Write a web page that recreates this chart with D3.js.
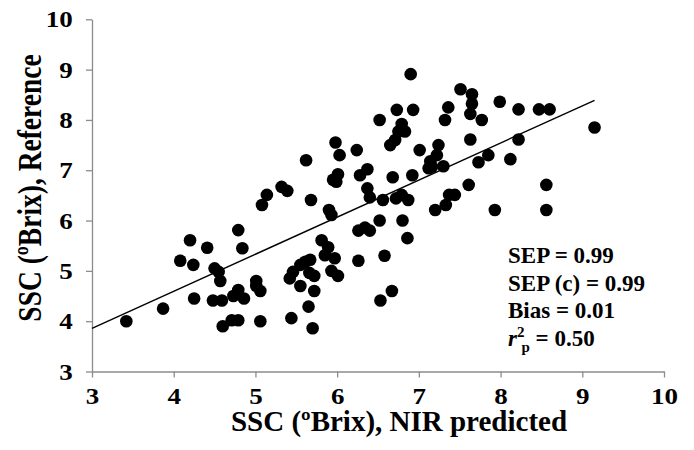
<!DOCTYPE html>
<html>
<head>
<meta charset="utf-8">
<script src="https://cdnjs.cloudflare.com/ajax/libs/d3/7.8.5/d3.min.js"></script>
<style>
  body { margin: 0; background: #fff; }
  svg text { font-family: "Liberation Serif", "Times New Roman", serif; font-weight: bold; fill: #000; }
</style>
</head>
<body>
<script>
// NIR predicted vs reference SSC (ºBrix)
const predicted = [3.42, 3.87, 4.08, 4.20, 4.24, 4.25, 4.41, 4.50, 4.55, 4.48, 4.59, 4.57, 4.60, 4.71, 4.79,
  4.73, 4.79, 4.86, 4.79, 4.84, 5.01, 5.01, 5.06, 5.06, 5.44, 5.42, 5.46, 5.55, 5.61, 5.67,
  5.55, 5.65, 5.66, 5.72, 5.72, 5.70, 5.81, 5.89, 5.85, 5.97, 5.93, 6.01, 5.08, 5.14, 5.32,
  5.39, 5.62, 5.68, 5.90, 5.93, 5.95, 6.01, 5.99, 5.98, 6.03, 6.24, 6.28, 6.37, 6.37, 6.40,
  6.56, 6.72, 6.79, 6.87, 7.20, 7.33, 6.26, 6.34, 6.40, 6.52, 6.80, 6.86, 6.26, 6.58, 6.67,
  6.53, 6.90, 6.73, 6.93, 6.52, 6.79, 6.83, 6.75, 6.71, 6.65, 7.36, 7.32, 7.01, 7.24, 7.22,
  7.14, 7.16, 7.30, 7.12, 6.92, 6.68, 7.37, 7.44, 7.51, 7.65, 7.65, 7.63, 7.77, 7.99, 8.22,
  8.47, 8.60, 9.15, 7.63, 8.22, 7.85, 7.73, 8.12, 7.61, 8.56, 7.93, 8.56]
const reference = [4.00, 4.25, 5.20, 5.61, 5.12, 4.45, 5.46, 5.05, 4.98, 4.41, 4.41, 4.80, 3.90, 4.02, 4.02,
  4.50, 4.62, 4.45, 5.81, 5.45, 4.80, 4.70, 4.60, 4.00, 4.06, 4.85, 4.98, 5.12, 5.18, 5.22,
  4.70, 4.29, 4.96, 4.90, 4.60, 3.86, 5.61, 5.47, 5.31, 5.25, 5.00, 4.90, 6.31, 6.51, 6.67,
  6.59, 7.20, 6.41, 6.21, 6.11, 6.81, 6.92, 6.77, 7.55, 7.30, 7.40, 6.90, 7.02, 6.64, 6.46,
  6.41, 6.44, 6.51, 6.41, 6.21, 6.31, 5.80, 5.86, 5.80, 6.00, 6.00, 5.65, 5.20, 5.30, 4.60,
  4.41, 8.91, 8.20, 8.20, 8.00, 7.92, 7.77, 7.77, 7.60, 7.50, 8.25, 8.00, 7.40, 7.50, 7.30,
  7.18, 7.07, 7.08, 7.04, 6.90, 6.86, 6.51, 6.51, 8.61, 8.51, 8.32, 8.12, 8.00, 8.36, 8.21,
  8.21, 8.21, 7.85, 7.61, 7.61, 7.30, 7.16, 7.22, 6.71, 6.71, 6.21, 6.21]

const ticks = [3, 4, 5, 6, 7, 8, 9, 10]
const fitX = [3, 9.15]
const fitIntercept = 3.857
const fitSlope = 0.737
const stats = [
  {label: "SEP", value: "0.99"},
  {label: "SEP (c)", value: "0.99"},
  {label: "Bias", value: "0.01"},
  {label: "r2p", value: "0.50"}
]

const width = 694
const height = 450

const svg = d3.select('body').append('svg')
  .attr('width', width)
  .attr('height', height)

const x = d3.scaleLinear().domain([3, 10]).range([92, 664])
const y = d3.scaleLinear().domain([3, 10]).range([371.5, 19.3])

const axisColor = '#8c8c8c'
const fmt = d3.format('d')

const xAxis = svg.append('g')
  .attr('transform', `translate(0,${y(3)})`)
  .call(d3.axisBottom(x).tickValues(ticks).tickFormat(fmt).tickSize(6).tickSizeOuter(0).tickPadding(11))
const yAxis = svg.append('g')
  .attr('transform', `translate(${x(3)},0)`)
  .call(d3.axisLeft(y).tickValues(ticks).tickFormat(fmt).tickSize(6).tickSizeOuter(0).tickPadding(13))

;[xAxis, yAxis].forEach(g => {
  g.select('.domain').attr('stroke', axisColor).attr('stroke-width', 1.3)
  g.selectAll('.tick line').attr('stroke', axisColor).attr('stroke-width', 1.3)
  g.selectAll('.tick text')
    .style('font-family', '"Liberation Serif", serif')
    .style('font-weight', 'bold')
    .style('font-size', '22.5px')
    .attr('fill', '#000')
})
// labels in the reference are a little wider than plain Times
xAxis.selectAll('.tick text').attr('dy', '0.71em').attr('transform', 'scale(1.2,1)')
yAxis.selectAll('.tick text').attr('dy', '0.34em').attr('x', -16).attr('transform', 'scale(1.2,1)')

// fit line
svg.append('line')
  .attr('x1', x(fitX[0])).attr('y1', y(fitIntercept + fitSlope * (fitX[0] - 3)))
  .attr('x2', x(fitX[1])).attr('y2', y(fitIntercept + fitSlope * (fitX[1] - 3)))
  .attr('stroke', '#000')
  .attr('stroke-width', 1.4)

// points
svg.append('g')
  .selectAll('circle')
  .data(predicted.map((p, i) => ({p, r: reference[i]})))
  .enter()
  .append('circle')
  .attr('cx', d => x(d.p))
  .attr('cy', d => y(d.r))
  .attr('r', 6.3)
  .attr('fill', '#000')

// titles
svg.append('text')
  .attr('x', 399)
  .attr('y', 431)
  .attr('text-anchor', 'middle')
  .style('font-size', '29px')
  .text('SSC (ºBrix), NIR predicted')

svg.append('text')
  .attr('transform', 'translate(41,188) rotate(-90) scale(1,1.22)')
  .attr('text-anchor', 'middle')
  .style('font-size', '27.5px')
  .text('SSC (ºBrix), Reference')

// stats block
const statG = svg.append('g').attr('transform', 'translate(508,263)')
stats.forEach((s, i) => {
  const t = statG.append('text')
    .attr('x', 0)
    .attr('y', i * 27.7)
    .style('font-size', '23px')
  if (s.label === 'r2p') {
    t.append('tspan').style('font-style', 'italic').text('r')
    t.append('tspan').attr('dy', -9).style('font-size', '15px').text('2')
    t.append('tspan').attr('dx', -3).attr('dy', 15).style('font-size', '15px').text('p')
    t.append('tspan').attr('dy', -6).text(' = ' + s.value)
  } else {
    t.text(`${s.label} = ${s.value}`)
  }
})
</script>
</body>
</html>
